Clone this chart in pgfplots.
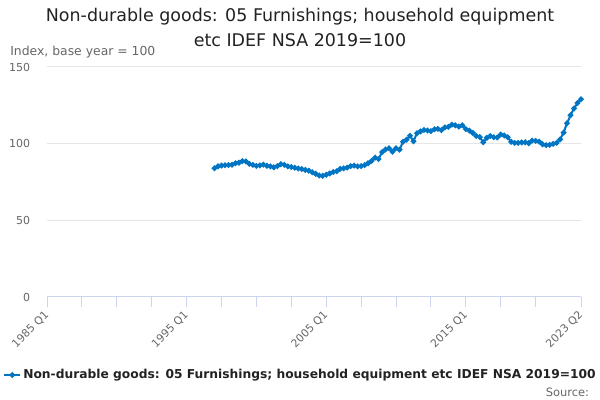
\documentclass[border=0pt]{standalone}
\usepackage{pgfplots}
\pgfplotsset{compat=1.18}
\usepackage{fontspec}
\setmainfont{DejaVu Sans}
\definecolor{series}{RGB}{0,117,196}
\definecolor{titlec}{RGB}{34,34,34}
\definecolor{labc}{RGB}{102,102,102}
\definecolor{gridc}{RGB}{230,230,230}
\definecolor{axisc}{RGB}{204,214,235}
\begin{document}
\begin{tikzpicture}[x=1pt,y=1pt]
\useasboundingbox (0,0) rectangle (450,300);
\node[font=\fontsize{13.1}{15}\selectfont, text=titlec] at (225,287.5) {Non-durable goods: 05 Furnishings; household equipment};
\node[font=\fontsize{13.1}{15}\selectfont, text=titlec] at (225,270) {etc IDEF NSA 2019=100};
\node[font=\fontsize{9.3}{10}\selectfont, text=labc, anchor=west, inner sep=0] at (7.5,261) {Index, base year = 100};
\node[font=\fontsize{8.6}{10}\selectfont, text=labc, anchor=east, inner sep=0] at (442,6) {Source:};
\begin{axis}[
  at={(35.25pt,77.25pt)}, anchor=south west,
  scale only axis, width=400.5pt, height=172.5pt,
  xmin=1985, xmax=2023.25, ymin=0, ymax=150,
  axis x line*=bottom, axis y line*=left,
  x axis line style={axisc, line width=0.75pt, -},
  y axis line style={draw=none},
  xtick={1985,1995,2005,2015,2023.25},
  xticklabels={1985 Q1,1995 Q1,2005 Q1,2015 Q1,2023 Q2},
  minor xtick={1987.5,1990,1992.5,1997.5,2000,2002.5,2007.5,2010,2012.5,2017.5,2020},
  xtick style={axisc, line width=0.75pt},
  minor x tick style={axisc, line width=0.75pt},
  ytick style={draw=none},
  tick align=outside, major tick length=7.5pt, minor tick length=7.5pt,
  xticklabel style={rotate=45, anchor=east, font=\fontsize{8.1}{10}\selectfont, text=labc, inner sep=0pt, xshift=-3.2pt, yshift=-3.2pt},
  ytick={0,50,100,150},
  yticklabel style={font=\fontsize{8.25}{10}\selectfont, text=labc, anchor=east, inner sep=0pt, xshift=-5pt},
  ymajorgrids, grid style={gridc, line width=0.75pt},
  /pgf/number format/assume math mode=true,
  clip=false,
  legend style={at={(-0.0824,-0.339)}, anchor=west, draw=none, fill=none, inner sep=0pt, font=\bfseries\fontsize{9.2}{11}\selectfont, text=titlec, nodes={inner sep=1.5pt}},
  legend cell align=left,
  legend image code/.code={\draw[mark repeat=2,mark phase=2,#1] plot coordinates {(0pt,0pt) (6pt,0pt) (12pt,0pt)};},
]
\addplot[series, line width=1.5pt, mark=*, mark size=1.3pt, mark options={series}] coordinates {
(1997.00,84.0)(1997.25,85.2)(1997.50,85.7)(1997.75,85.9)
(1998.00,86.1)(1998.25,86.3)(1998.50,87.2)(1998.75,87.6)
(1999.00,88.6)(1999.25,88.4)(1999.50,86.8)(1999.75,86.2)
(2000.00,85.5)(2000.25,85.8)(2000.50,86.3)(2000.75,85.6)
(2001.00,85.2)(2001.25,84.6)(2001.50,85.4)(2001.75,86.6)
(2002.00,86.2)(2002.25,85.2)(2002.50,84.8)(2002.75,84.3)
(2003.00,83.8)(2003.25,83.5)(2003.50,82.9)(2003.75,82.4)
(2004.00,81.4)(2004.25,80.3)(2004.50,79.2)(2004.75,79.0)
(2005.00,79.7)(2005.25,80.6)(2005.50,81.5)(2005.75,82.0)
(2006.00,83.6)(2006.25,83.9)(2006.50,84.4)(2006.75,85.4)
(2007.00,85.7)(2007.25,85.2)(2007.50,85.4)(2007.75,86.0)
(2008.00,87.2)(2008.25,88.8)(2008.50,90.9)(2008.75,90.0)
(2009.00,94.5)(2009.25,96.2)(2009.50,97.0)(2009.75,94.8)
(2010.00,97.0)(2010.25,96.1)(2010.50,101.2)(2010.75,102.5)
(2011.00,105.2)(2011.25,101.6)(2011.50,106.8)(2011.75,108.0)
(2012.00,108.9)(2012.25,108.6)(2012.50,108.2)(2012.75,109.4)
(2013.00,109.6)(2013.25,108.8)(2013.50,110.6)(2013.75,111.0)
(2014.00,112.4)(2014.25,112.0)(2014.50,111.1)(2014.75,112.0)
(2015.00,109.5)(2015.25,108.5)(2015.50,107.0)(2015.75,105.0)
(2016.00,104.3)(2016.25,100.9)(2016.50,103.8)(2016.75,105.0)
(2017.00,104.2)(2017.25,104.0)(2017.50,106.0)(2017.75,105.3)
(2018.00,104.2)(2018.25,101.2)(2018.50,100.5)(2018.75,100.5)
(2019.00,100.8)(2019.25,100.9)(2019.50,100.3)(2019.75,102.0)
(2020.00,101.8)(2020.25,101.3)(2020.50,99.6)(2020.75,99.0)
(2021.00,99.2)(2021.25,99.9)(2021.50,100.5)(2021.75,102.8)
(2022.00,107.2)(2022.25,113.3)(2022.50,118.5)(2022.75,123.0)
(2023.00,126.5)(2023.25,129.0)
};
\addlegendentry{Non-durable goods: 05 Furnishings; household equipment etc IDEF NSA 2019=100}
\end{axis}
\end{tikzpicture}
\end{document}
